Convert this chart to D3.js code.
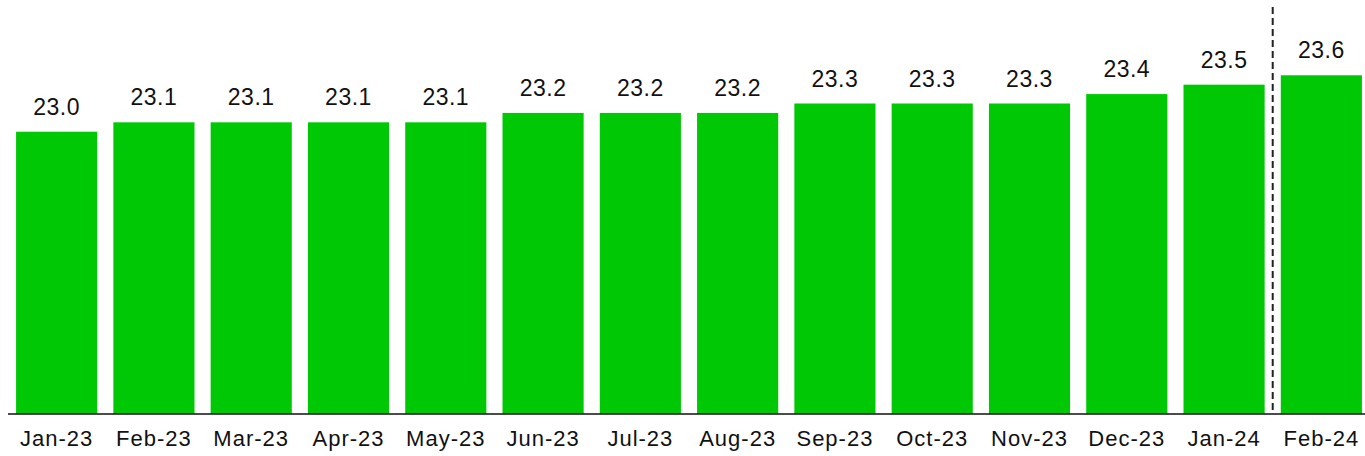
<!DOCTYPE html>
<html>
<head>
<meta charset="utf-8">
<script src="https://cdn.jsdelivr.net/npm/d3@7"></script>
<style>
html,body{margin:0;padding:0;background:#fff;}
svg{display:block;}
text{font-family:"Liberation Sans",Arial,Helvetica,sans-serif;fill:#111;}
</style>
</head>
<body>
<svg id="chart" width="1365" height="456"></svg>
<script>
const categories = ["Jan-23","Feb-23","Mar-23","Apr-23","May-23","Jun-23","Jul-23","Aug-23","Sep-23","Oct-23","Nov-23","Dec-23","Jan-24","Feb-24"];
const values = [23.0,23.1,23.1,23.1,23.1,23.2,23.2,23.2,23.3,23.3,23.3,23.4,23.5,23.6];
const valueLabels = ["23.0","23.1","23.1","23.1","23.1","23.2","23.2","23.2","23.3","23.3","23.3","23.4","23.5","23.6"];
const dividerAfter = "Jan-24";

const svg = d3.select("#chart");
const W = 1365, H = 456;
const baseY = 414;

const x = d3.scaleBand().domain(categories).range([8, 1370]).paddingInner(0.166).paddingOuter(0.083);
const y = d3.scaleLinear().domain([20, 24.4]).range([baseY, 0]);

svg.selectAll("rect.bar").data(categories).enter().append("rect")
  .attr("class","bar")
  .attr("x", d => x(d))
  .attr("width", x.bandwidth())
  .attr("y", (d,i) => y(values[i]))
  .attr("height", (d,i) => baseY - y(values[i]))
  .attr("fill", "#00c805");

svg.selectAll("text.val").data(categories).enter().append("text")
  .attr("class","val")
  .attr("x", d => x(d) + x.bandwidth()/2)
  .attr("y", (d,i) => y(values[i]) - 17)
  .attr("text-anchor","middle")
  .style("font-size","23px")
  .style("letter-spacing","0.5px")
  .text((d,i) => valueLabels[i]);

// divider
const iDiv = categories.indexOf(dividerAfter);
const xDiv = (x(categories[iDiv]) + x.bandwidth() + x(categories[iDiv+1])) / 2;
svg.append("line")
  .attr("x1", xDiv).attr("x2", xDiv)
  .attr("y1", 7).attr("y2", baseY)
  .attr("stroke", "#222").attr("stroke-width", 2)
  .attr("stroke-dasharray", "7,4");

// axis
const axis = d3.axisBottom(x).tickSize(0).tickPadding(16);
const g = svg.append("g").attr("transform", `translate(0,${baseY})`).call(axis);
g.select(".domain").remove();
g.selectAll("text").style("font-size","22px").style("letter-spacing","1px").attr("fill","#111").style("font-family",'"Liberation Sans",Arial,sans-serif');
svg.append("line").attr("x1", 8).attr("x2", W).attr("y1", baseY).attr("y2", baseY)
  .attr("stroke","#111").attr("stroke-width",1.5);
</script>
</body>
</html>
